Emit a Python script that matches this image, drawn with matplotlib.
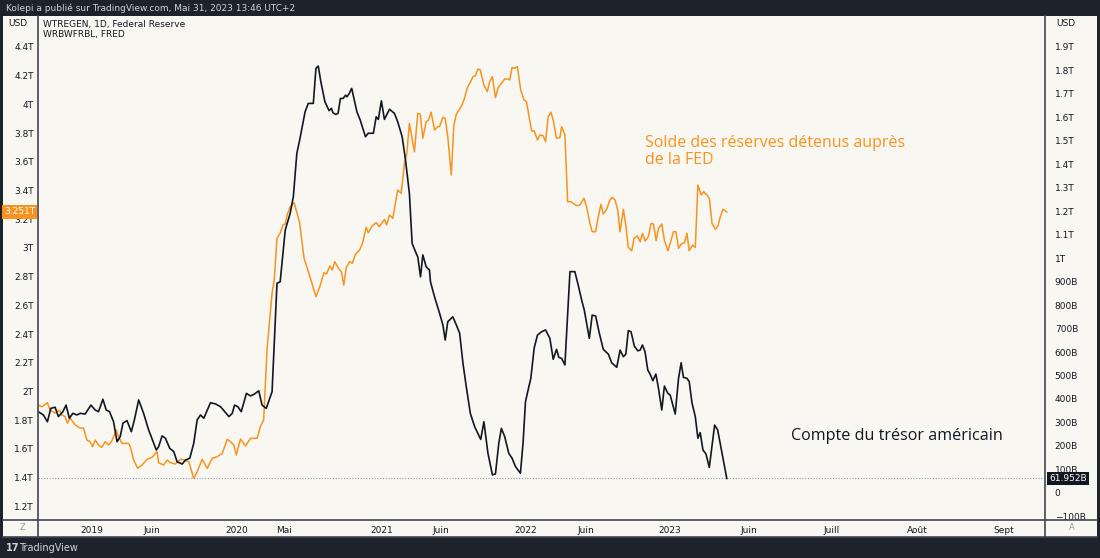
import numpy as np
import pandas as pd
import matplotlib
matplotlib.use("Agg")
import matplotlib.pyplot as plt
import matplotlib.dates as mdates
import matplotlib.transforms as mtransforms
from matplotlib.lines import Line2D
from matplotlib.patches import Rectangle

# Couleurs
ORANGE = "#f7931e"
NOIR = "#131722"
FOND = "#f8f7f2"
CADRE = "#1e222d"

# WRBWFRBL - solde des réserves (échelle gauche, en T) ; dates en années décimales
reserves_t = [
    2018.627, 2018.651, 2018.690, 2018.708, 2018.743, 2018.773, 2018.790, 2018.813, 2018.828, 2018.847,
    2018.882, 2018.917, 2018.940, 2018.963, 2018.986,
    2019.002, 2019.021, 2019.044, 2019.067, 2019.090, 2019.113, 2019.137, 2019.167, 2019.183, 2019.206,
    2019.252, 2019.264, 2019.287, 2019.315, 2019.345, 2019.380, 2019.415, 2019.449, 2019.460, 2019.495,
    2019.519, 2019.542, 2019.576, 2019.611, 2019.639, 2019.669, 2019.703, 2019.727, 2019.762, 2019.797,
    2019.831, 2019.866, 2019.901, 2019.935, 2019.958, 2019.981, 2019.998,
    2020.027, 2020.062, 2020.096, 2020.142, 2020.164, 2020.187, 2020.210, 2020.245, 2020.260, 2020.279,
    2020.301, 2020.320, 2020.336, 2020.351, 2020.370, 2020.397, 2020.434, 2020.466, 2020.507, 2020.548,
    2020.575, 2020.603, 2020.621, 2020.644, 2020.662, 2020.678, 2020.708, 2020.724, 2020.740, 2020.758,
    2020.781, 2020.799, 2020.822, 2020.849, 2020.868, 2020.895, 2020.909, 2020.936, 2020.964, 2020.986,
    2021.021, 2021.037, 2021.056, 2021.079, 2021.113, 2021.137, 2021.160, 2021.176, 2021.194, 2021.229,
    2021.252, 2021.269, 2021.287, 2021.310, 2021.326, 2021.345, 2021.368, 2021.391, 2021.403, 2021.426,
    2021.442, 2021.460, 2021.484, 2021.502, 2021.519, 2021.542, 2021.558, 2021.576, 2021.595, 2021.618,
    2021.634, 2021.651, 2021.669, 2021.685, 2021.710, 2021.734, 2021.750, 2021.769, 2021.790, 2021.808,
    2021.831, 2021.854, 2021.877, 2021.889, 2021.905, 2021.924, 2021.942, 2021.965, 2021.988,
    2022.005, 2022.021, 2022.040, 2022.058, 2022.081, 2022.097, 2022.120, 2022.137, 2022.155, 2022.174,
    2022.190, 2022.213, 2022.236, 2022.248, 2022.271, 2022.290, 2022.313, 2022.352, 2022.375, 2022.403,
    2022.421, 2022.444, 2022.460, 2022.484, 2022.502, 2022.521, 2022.537, 2022.560, 2022.583, 2022.599,
    2022.618, 2022.637, 2022.653, 2022.676, 2022.694, 2022.710, 2022.734, 2022.750, 2022.773, 2022.792,
    2022.808, 2022.826, 2022.849, 2022.868, 2022.884, 2022.903, 2022.919, 2022.942, 2022.960, 2022.984,
    2023.007, 2023.023, 2023.040, 2023.058, 2023.076, 2023.099, 2023.116, 2023.132, 2023.155, 2023.174,
    2023.192, 2023.215, 2023.231, 2023.255, 2023.271, 2023.290, 2023.313, 2023.331, 2023.347, 2023.366,
    2023.392,
]
reserves_v = [
    1.905, 1.893, 1.921, 1.870, 1.849, 1.870, 1.836, 1.824, 1.778, 1.815,
    1.766, 1.745, 1.745, 1.661, 1.650,
    1.615, 1.661, 1.626, 1.610, 1.650, 1.626, 1.657, 1.731, 1.684, 1.638,
    1.638, 1.615, 1.522, 1.464, 1.487, 1.527, 1.541, 1.580, 1.503, 1.487,
    1.522, 1.503, 1.494, 1.527, 1.522, 1.510, 1.394, 1.440, 1.527, 1.464,
    1.534, 1.545, 1.569, 1.666, 1.650, 1.626, 1.557,
    1.668, 1.620, 1.673, 1.673, 1.754, 1.801, 2.289, 2.684, 2.776, 3.067,
    3.102, 3.160, 3.167, 3.236, 3.287, 3.315, 3.183, 2.928, 2.799, 2.660,
    2.730, 2.827, 2.818, 2.874, 2.846, 2.904, 2.851, 2.834, 2.741, 2.865,
    2.904, 2.893, 2.957, 2.985, 3.027, 3.144, 3.106, 3.153, 3.176, 3.148,
    3.199, 3.160, 3.229, 3.206, 3.403, 3.380, 3.590, 3.659, 3.868, 3.670,
    3.938, 3.933, 3.764, 3.879, 3.891, 3.945, 3.822, 3.845, 3.845, 3.910,
    3.903, 3.775, 3.508, 3.856, 3.931, 3.968, 3.996, 4.043, 4.116, 4.158,
    4.193, 4.200, 4.247, 4.240, 4.135, 4.089, 4.158, 4.193, 4.047, 4.116,
    4.147, 4.177, 4.177, 4.170, 4.256, 4.252, 4.263, 4.100, 4.031,
    4.019, 3.926, 3.815, 3.815, 3.752, 3.787, 3.782, 3.740, 3.914, 3.945,
    3.891, 3.764, 3.768, 3.845, 3.787, 3.322, 3.322, 3.294, 3.299, 3.346,
    3.287, 3.171, 3.113, 3.113, 3.217, 3.304, 3.236, 3.269, 3.334, 3.353,
    3.334, 3.264, 3.113, 3.269, 3.148, 3.004, 2.980, 3.067, 3.083, 3.043,
    3.102, 3.048, 3.078, 3.171, 3.167, 3.050, 3.137, 3.167, 3.055, 2.980,
    3.055, 3.113, 3.113, 2.997, 3.027, 3.036, 3.102, 2.980, 3.020, 3.004,
    3.438, 3.369, 3.392, 3.369, 3.346, 3.171, 3.130, 3.153, 3.217, 3.269,
    3.251,
]

# WTREGEN - compte du Trésor (échelle droite, en B)
tresor_t = [
    2018.627, 2018.662, 2018.690, 2018.713, 2018.743, 2018.766, 2018.797, 2018.819, 2018.842, 2018.866,
    2018.894, 2018.917, 2018.951, 2018.991,
    2019.021, 2019.044, 2019.074, 2019.097, 2019.120, 2019.148, 2019.172, 2019.194, 2019.213, 2019.241,
    2019.271, 2019.292, 2019.322, 2019.356, 2019.391, 2019.426, 2019.444, 2019.460, 2019.484, 2019.507,
    2019.537, 2019.565, 2019.588, 2019.623, 2019.646, 2019.676, 2019.703, 2019.727, 2019.750, 2019.773,
    2019.797, 2019.819, 2019.854, 2019.889, 2019.924, 2019.947, 2019.970, 2019.986,
    2020.009, 2020.032, 2020.068, 2020.096, 2020.123, 2020.153, 2020.176, 2020.205, 2020.245, 2020.279,
    2020.301, 2020.336, 2020.370, 2020.392, 2020.416, 2020.438, 2020.473, 2020.495, 2020.530, 2020.548,
    2020.564, 2020.582, 2020.610, 2020.639, 2020.655, 2020.666, 2020.685, 2020.701, 2020.717, 2020.735,
    2020.753, 2020.762, 2020.776, 2020.795, 2020.831, 2020.854, 2020.890, 2020.909, 2020.945, 2020.964,
    2020.979,
    2021.000, 2021.021, 2021.056, 2021.090, 2021.113, 2021.144, 2021.167, 2021.194, 2021.213, 2021.241,
    2021.252, 2021.271, 2021.287, 2021.310, 2021.333, 2021.340, 2021.368, 2021.403, 2021.426, 2021.442,
    2021.460, 2021.495, 2021.519, 2021.542, 2021.565, 2021.588, 2021.616, 2021.646, 2021.688, 2021.710,
    2021.738, 2021.769, 2021.790, 2021.813, 2021.831, 2021.854, 2021.882, 2021.905, 2021.929, 2021.963,
    2021.981, 2021.998,
    2022.016, 2022.035, 2022.058, 2022.081, 2022.109, 2022.137, 2022.167, 2022.190, 2022.213, 2022.229,
    2022.248, 2022.271, 2022.306, 2022.340, 2022.363, 2022.387, 2022.405, 2022.440, 2022.460, 2022.484,
    2022.507, 2022.537, 2022.572, 2022.595, 2022.630, 2022.653, 2022.676, 2022.693, 2022.710, 2022.729,
    2022.752, 2022.776, 2022.792, 2022.808, 2022.826, 2022.845, 2022.861, 2022.880, 2022.901, 2022.919,
    2022.942, 2022.960, 2022.984,
    2023.000, 2023.035, 2023.058, 2023.076, 2023.092, 2023.116, 2023.132, 2023.151, 2023.174, 2023.192,
    2023.208, 2023.227, 2023.248, 2023.271, 2023.308, 2023.329, 2023.392,
]
tresor_v = [
    346, 332, 303, 360, 365, 325, 346, 374, 318, 339,
    332, 339, 336, 374,
    353, 346, 399, 353, 346, 303, 218, 240, 297, 308,
    261, 311, 396, 339, 268, 211, 183, 197, 243, 233,
    190, 176, 133, 123, 140, 148, 211, 311, 332, 318,
    353, 384, 379, 367, 342, 325, 339, 374,
    367, 346, 424, 413, 421, 435, 374, 360, 431, 892,
    899, 1119, 1190, 1261, 1445, 1509, 1622, 1658, 1658, 1807,
    1817, 1750, 1665, 1627, 1637, 1618, 1611, 1616, 1679, 1679,
    1693, 1686, 1698, 1722, 1622, 1587, 1516, 1531, 1531, 1601,
    1590,
    1669, 1590, 1633, 1616, 1580, 1516, 1417, 1275, 1062, 1020,
    1005, 920, 1013, 963, 949, 899, 835, 765, 715, 651,
    729, 750, 715, 680, 552, 452, 339, 282, 228, 303,
    169, 77, 81, 211, 275, 240, 169, 148, 112, 84,
    211, 388,
    438, 488, 616, 672, 686, 694, 658, 569, 611, 577,
    573, 545, 942, 942, 885, 821, 779, 658, 757, 753,
    686, 611, 591, 554, 535, 608, 580, 591, 691, 686,
    625, 605, 608, 630, 601, 523, 506, 478, 506, 446,
    353, 455, 424,
    417, 336, 488, 554, 492, 488, 474, 384, 325, 233,
    257, 183, 166, 109, 289, 268, 61.952,
]

# Axes
gauche_ticks = [1.2, 1.4, 1.6, 1.8, 2.0, 2.2, 2.4, 2.6, 2.8, 3.0, 3.2, 3.4, 3.6, 3.8, 4.0, 4.2, 4.4]
gauche_labels = ["1.2T", "1.4T", "1.6T", "1.8T", "2T", "2.2T", "2.4T", "2.6T", "2.8T", "3T",
                 "3.2T", "3.4T", "3.6T", "3.8T", "4T", "4.2T", "4.4T"]
droite_ticks = [-100, 0, 100, 200, 300, 400, 500, 600, 700, 800, 900,
                1000, 1100, 1200, 1300, 1400, 1500, 1600, 1700, 1800, 1900]
droite_labels = ["\u2212100B", "0", "100B", "200B", "300B", "400B", "500B", "600B", "700B", "800B",
                 "900B", "1T", "1.1T", "1.2T", "1.3T", "1.4T", "1.5T", "1.6T", "1.7T", "1.8T", "1.9T"]
x_ticks = ["2019-01-01", "2019-06-01", "2020-01-01", "2020-05-01", "2021-01-01", "2021-06-01",
           "2022-01-01", "2022-06-01", "2023-01-01", "2023-06-01", "2023-07-01", "2023-08-01",
           "2023-09-01"]
x_labels = ["2019", "Juin", "2020", "Mai", "2021", "Juin", "2022", "Juin", "2023", "Juin",
            "Juill", "Août", "Sept"]


def annee_vers_date(liste):
    dates = []
    for a in liste:
        an = int(a)
        debut = pd.Timestamp(year=an, month=1, day=1)
        nb = pd.Timestamp(year=an, month=12, day=31).dayofyear
        dates.append(debut + pd.Timedelta(days=(a - an) * nb))
    return pd.DatetimeIndex(dates)


reserves_d = annee_vers_date(reserves_t)
tresor_d = annee_vers_date(tresor_t)

# Echelle type TradingView : une barre par semaine jusqu'au dernier point,
# puis une barre par jour dans la zone future.
DERNIER = mdates.date2num(tresor_d[-1])


def aller(d):
    d = np.asarray(d, dtype=float)
    return np.where(d <= DERNIER, (d - DERNIER) / 7.0, d - DERNIER)


def retour(u):
    u = np.asarray(u, dtype=float)
    return np.where(u <= 0, u * 7.0 + DERNIER, u + DERNIER)


W, H = 1100, 558


def px(x):
    return x / W


def py(y):
    return 1 - y / H


fig = plt.figure(figsize=(11, 5.58), dpi=100, facecolor=CADRE)
fig.add_artist(Rectangle((px(3), py(537)), px(1097) - px(3), py(16) - py(537),
                         transform=fig.transFigure, facecolor=FOND, edgecolor="none", zorder=0))

ax = fig.add_axes([px(38), py(520), px(1045) - px(38), py(16) - py(520)])
ax.set_facecolor(FOND)
ax.plot(reserves_d, reserves_v, color=ORANGE, lw=1.1, zorder=2)

ax2 = ax.twinx()
ax2.plot(tresor_d, tresor_v, color=NOIR, lw=1.2, zorder=3)
ax2.axhline(tresor_v[-1], color="#9598a1", lw=0.8, ls=(0, (1, 1.5)), zorder=1)

ax.set_xscale("function", functions=(aller, retour))
ax.set_xlim(mdates.date2num(pd.Timestamp("2018-08-17")), mdates.date2num(pd.Timestamp("2023-09-16")))
ax.set_xticks(mdates.date2num(pd.DatetimeIndex(x_ticks)), x_labels)
ax.xaxis.set_minor_locator(matplotlib.ticker.NullLocator())

ax.set_ylim(1.104, 4.616)
ax2.set_ylim(-115, 2030)
ax.set_yticks(gauche_ticks, gauche_labels)
ax2.set_yticks(droite_ticks, droite_labels)

for a in (ax, ax2):
    a.tick_params(axis="both", length=0, labelsize=6.5, colors=NOIR)
    for s in a.spines.values():
        s.set_visible(False)
ax.tick_params(axis="y", pad=3)
ax2.tick_params(axis="y", pad=7)
ax.tick_params(axis="x", pad=4)
for lab in ax2.get_yticklabels():
    lab.set_horizontalalignment("left")

# Etiquettes des dernières valeurs
trans_g = mtransforms.blended_transform_factory(ax.transAxes, ax.transData)
ax.text(-0.003, reserves_v[-1], f"{reserves_v[-1]:.3f}T", transform=trans_g, ha="right", va="center",
        fontsize=6.5, color="white", clip_on=False,
        bbox=dict(boxstyle="square,pad=0.25", facecolor=ORANGE, edgecolor="none"))
trans_d = mtransforms.blended_transform_factory(ax2.transAxes, ax2.transData)
ax2.text(1.004, tresor_v[-1], f"{tresor_v[-1]:.3f}B", transform=trans_d, ha="left", va="center",
         fontsize=6.5, color="white", clip_on=False,
         bbox=dict(boxstyle="square,pad=0.25", facecolor=NOIR, edgecolor="none"))

# Annotations
ax.text(0.603, 0.764, "Solde des réserves détenus auprès\nde la FED", transform=ax.transAxes,
        ha="left", va="top", fontsize=11.5, color=ORANGE, family="Open Sans", linespacing=1.12)
ax.text(0.748, 0.182, "Compte du trésor américain", transform=ax.transAxes,
        ha="left", va="top", fontsize=11.6, color=NOIR, family="Open Sans")

# Séparateurs du cadre
for seg in [((38, 38), (16, 537)), ((1045, 1045), (16, 537)), ((3, 1097), (520, 520)),
            ((3, 1097), (537, 537))]:
    fig.add_artist(Line2D([px(v) for v in seg[0]], [py(v) for v in seg[1]],
                          transform=fig.transFigure, color="#434651", lw=1.2))

# Textes de l'interface
fig.text(px(6), py(8), "Kolepi a publié sur TradingView.com, Mai 31, 2023 13:46 UTC+2",
         fontsize=6.5, color="#d1d4dc", va="center")
fig.text(px(43), py(24), "WTREGEN, 1D, Federal Reserve", fontsize=6.5, color=NOIR, va="center")
fig.text(px(43), py(35), "WRBWFRBL, FRED", fontsize=6.5, color=NOIR, va="center")
fig.text(px(18), py(24), "USD", fontsize=6.5, color=NOIR, va="center", ha="center")
fig.text(px(1066), py(24), "USD", fontsize=6.5, color=NOIR, va="center", ha="center")
fig.text(px(22), py(528), "Z", fontsize=6, color="#9598a1", va="center", ha="center")
fig.text(px(1072), py(528), "A", fontsize=6, color="#9598a1", va="center", ha="center")
fig.text(px(6), py(548), "17", fontsize=7, color="#d1d4dc", va="center", weight="bold")
fig.text(px(19), py(548), "TradingView", fontsize=7, color="#d1d4dc", va="center")

fig.savefig("out.png", dpi=100, facecolor=CADRE)
